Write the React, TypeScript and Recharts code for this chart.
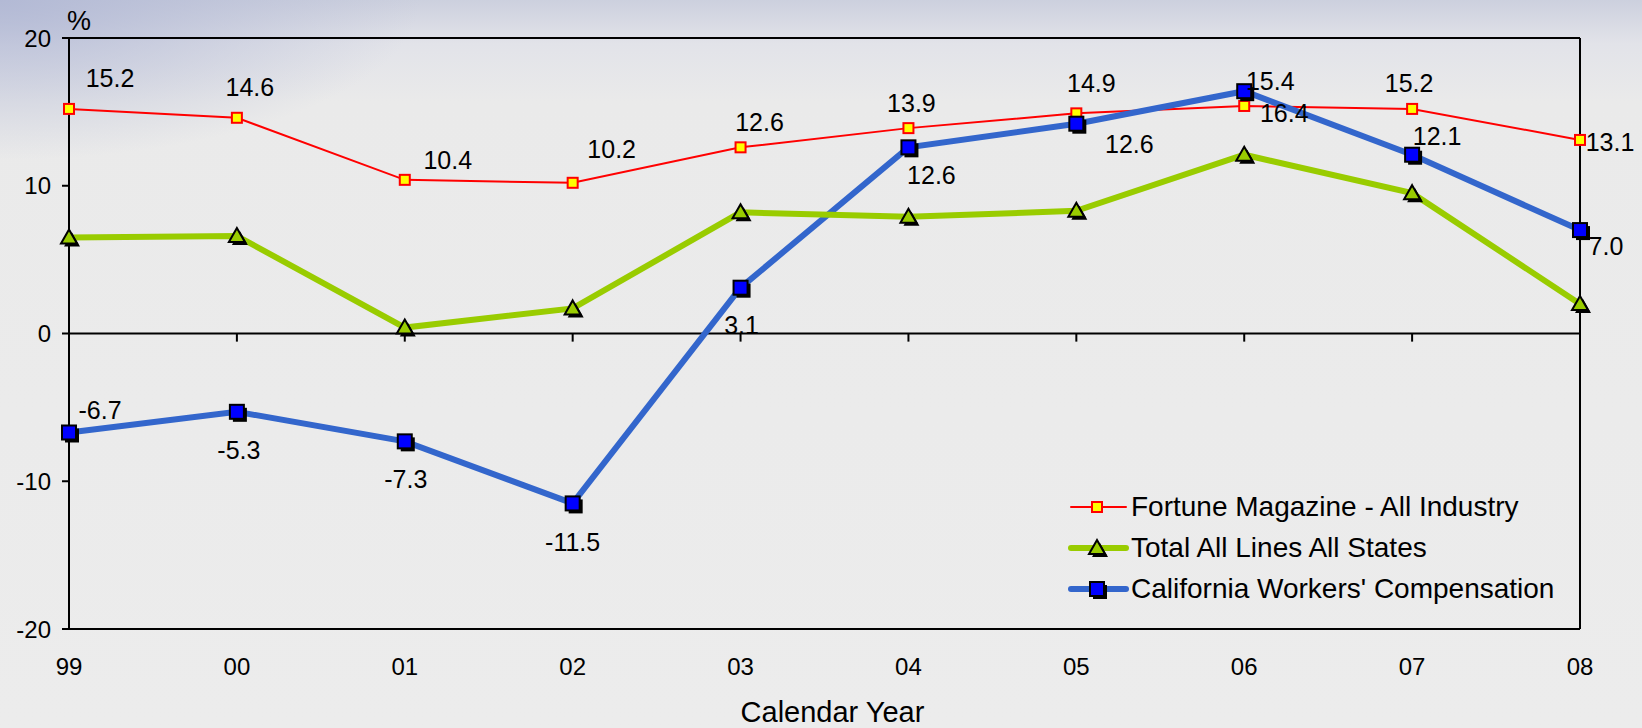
import React from "react";
import { LineChart, Line, XAxis, YAxis, ReferenceLine, LabelList } from "recharts";

const categories = ["99", "00", "01", "02", "03", "04", "05", "06", "07", "08"];
const fortune = [15.2, 14.6, 10.4, 10.2, 12.6, 13.9, 14.9, 15.4, 15.2, 13.1];
const totalAll = [6.5, 6.6, 0.4, 1.7, 8.2, 7.9, 8.3, 12.1, 9.5, 2.0];
const calWC = [-6.7, -5.3, -7.3, -11.5, 3.1, 12.6, 14.2, 16.4, 12.1, 7.0];
const calWCLabels = ["-6.7", "-5.3", "-7.3", "-11.5", "3.1", "12.6", "12.6", "16.4", "12.1", "7.0"];
const yTicks = [-20, -10, 0, 10, 20];

const seriesNames = ["Fortune Magazine - All Industry", "Total All Lines All States", "California Workers' Compensation"];

// label nudges (dx, dy) from each point, in px
const fortuneLabelOffsets = [[41, -31], [13, -31], [43, -20], [39, -34], [19, -25], [3, -25], [15, -30], [26, -25], [-3, -26], [30, 2]];
const calWCLabelOffsets = [[31, -22], [2, 38], [1, 38], [0, 39], [1, 37], [23, 28], [53, 20], [40, 22], [25, -19], [26, 16]];

const data = categories.map((c, i) => ({
  year: c,
  fortune: fortune[i],
  totalAll: totalAll[i],
  calWC: calWC[i],
  calWCLabel: calWCLabels[i],
}));

const FONT = "'Liberation Sans', Arial, sans-serif";

function SquareDot(props: any) {
  const { cx, cy } = props;
  if (cx == null || cy == null) return null;
  return <rect x={cx - 5} y={cy - 5} width={10} height={10} fill="#ffff00" stroke="#ff0000" strokeWidth={2} />;
}

function BlueDot(props: any) {
  const { cx, cy } = props;
  if (cx == null || cy == null) return null;
  return (
    <g>
      <rect x={cx - 4} y={cy - 4} width={14} height={14} fill="#000" />
      <rect x={cx - 7} y={cy - 7} width={14} height={14} fill="#0000ff" stroke="#000" strokeWidth={2} />
    </g>
  );
}

function TriDot(props: any) {
  const { cx, cy } = props;
  if (cx == null || cy == null) return null;
  const tri = (x: number, y: number) => `${x},${y - 8} ${x + 8},${y + 6} ${x - 8},${y + 6}`;
  return (
    <g>
      <polygon points={tri(cx + 3, cy + 3)} fill="#000" />
      <polygon points={tri(cx, cy)} fill="#99cc00" stroke="#000" strokeWidth={2} />
    </g>
  );
}

function makeLabel(offsets: number[][], fmt: (v: any) => string) {
  return (props: any) => {
    const x = props.x ?? props.viewBox?.x;
    const y = props.y ?? props.viewBox?.y;
    const i = props.index ?? 0;
    const [dx, dy] = offsets[i] || [0, -20];
    return (
      <text x={x + dx} y={y + dy} textAnchor="middle" dominantBaseline="central" fontSize={25} fontFamily={FONT} fill="#000">
        {fmt(props.value)}
      </text>
    );
  };
}

function LegendBox() {
  const rows = [
    { name: seriesNames[0], color: "#ff0000", width: 2, dot: <SquareDot cx={29} cy={20} /> },
    { name: seriesNames[1], color: "#99cc00", width: 6, dot: <TriDot cx={29} cy={20} /> },
    { name: seriesNames[2], color: "#3366cc", width: 6, dot: <BlueDot cx={29} cy={20} /> },
  ];
  return (
    <div style={{ position: "absolute", left: 1068, top: 486, fontFamily: FONT }}>
      {rows.map((r) => (
        <div key={r.name} style={{ display: "flex", alignItems: "center", height: 41 }}>
          <svg width={63} height={40}>
            <line x1={3} y1={20} x2={58} y2={20} stroke={r.color} strokeWidth={r.width} strokeLinecap="round" />
            {r.dot}
          </svg>
          <span style={{ fontSize: 28, color: "#000", whiteSpace: "nowrap" }}>{r.name}</span>
        </div>
      ))}
    </div>
  );
}

export default function App() {
  return (
    <div
      style={{
        position: "fixed",
        left: 0,
        top: 0,
        width: 1642,
        height: 728,
        background:
          "radial-gradient(ellipse 420px 160px at 0 0, rgba(176,183,212,0.9) 0%, rgba(235,235,235,0) 100%), linear-gradient(180deg, #ccd0de 0%, #e2e3e9 6%, #eaeaea 14%, #ececec 100%)",
        fontFamily: FONT,
      }}
    >
      <div style={{ position: "absolute", left: 67, top: 6, fontSize: 27, color: "#000" }}>%</div>
      <LineChart width={1642} height={728} data={data} margin={{ top: 38, right: 62, bottom: 0, left: 0 }}>
        <XAxis
          dataKey="year"
          height={99}
          axisLine={{ stroke: "#000", strokeWidth: 2 }}
          tickLine={false}
          tickSize={0}
          tickMargin={29}
          tick={{ fontSize: 24, fill: "#000", fontFamily: FONT }}
          interval={0}
          label={{ value: "Calendar Year", position: "insideBottom", offset: 6, dx: 8, fontSize: 29, fill: "#000", fontFamily: FONT }}
        />
        <YAxis
          width={69}
          domain={[-20, 20]}
          ticks={yTicks}
          interval={0}
          axisLine={{ stroke: "#000", strokeWidth: 2 }}
          tickLine={{ stroke: "#000", strokeWidth: 2 }}
          tickSize={7}
          tickMargin={11}
          tick={{ fontSize: 24, fill: "#000", fontFamily: FONT }}
        />
        <ReferenceLine y={20} stroke="#000" strokeWidth={2} />
        <ReferenceLine x="08" stroke="#000" strokeWidth={2} />
        <ReferenceLine y={0} stroke="#000" strokeWidth={2} />
        {categories.map((c) => (
          <ReferenceLine key={c} segment={[{ x: c, y: 0 }, { x: c, y: -0.55 }]} stroke="#000" strokeWidth={2} />
        ))}
        <Line
          dataKey="fortune"
          name={seriesNames[0]}
          stroke="#ff0000"
          strokeWidth={2}
          dot={<SquareDot />}
          activeDot={false}
          isAnimationActive={false}
        >
          <LabelList dataKey="fortune" content={makeLabel(fortuneLabelOffsets, (v) => Number(v).toFixed(1))} />
        </Line>
        <Line
          dataKey="calWC"
          name={seriesNames[2]}
          stroke="#3366cc"
          strokeWidth={6}
          dot={<BlueDot />}
          activeDot={false}
          isAnimationActive={false}
        >
          <LabelList dataKey="calWCLabel" content={makeLabel(calWCLabelOffsets, (v) => String(v))} />
        </Line>
        <Line
          dataKey="totalAll"
          name={seriesNames[1]}
          stroke="#99cc00"
          strokeWidth={6}
          dot={<TriDot />}
          activeDot={false}
          isAnimationActive={false}
        />
      </LineChart>
      <LegendBox />
    </div>
  );
}
